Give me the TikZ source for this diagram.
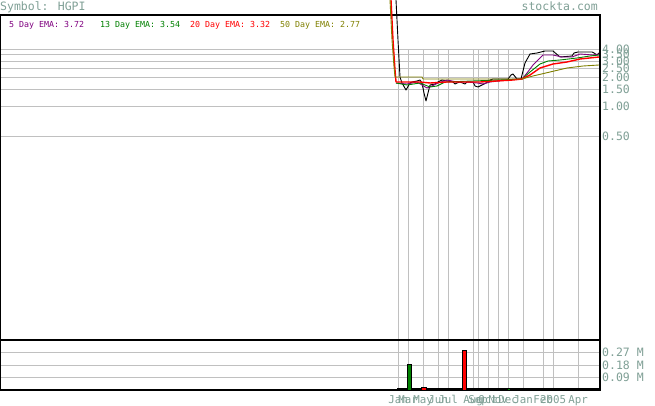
\documentclass[tikz,border=0pt]{standalone}
\usepackage{fontspec}
\newfontfamily\chartfont{DejaVu Sans Mono}
\definecolor{axisgray}{RGB}{192,192,192}
\definecolor{labelteal}{RGB}{128,160,150}
\definecolor{emapurple}{RGB}{128,0,128}
\definecolor{emagreen}{RGB}{0,128,0}
\definecolor{emared}{RGB}{255,0,0}
\definecolor{emaolive}{RGB}{128,128,0}

\begin{document}
\begin{tikzpicture}[x=1pt,y=-1pt,
    bigtext/.style={font=\chartfont\fontsize{11.5}{12}\selectfont,text=labelteal,inner sep=0pt},
    monthtext/.style={font=\chartfont\fontsize{10.8}{11}\selectfont,text=labelteal,inner sep=0pt,anchor=base},
    legendtext/.style={font=\chartfont\fontsize{8.3}{9}\selectfont,inner sep=0pt,anchor=base west},
    gridline/.style={axisgray,line width=1pt},
    frameline/.style={black,line width=1.2pt},
    volbar/.style={draw=black,line width=0.8pt}]
    \path[use as bounding box,fill=white] (0,0) rectangle (655,406);
    % Grid
    \foreach \y in {50,55,62,69,78,90,107,137,352,365,377}
      \draw[gridline] (0,\y) -- (600,\y);
    \foreach \x in {398,408,423,438,448,473,478,488,498,508,523,543,553,578}
      \draw[gridline] (\x,50) -- (\x,390);
    % Frame
    \draw[frameline] (0.6,15) -- (600,15) -- (600,390) -- (0.6,390) -- cycle;
    \draw[frameline] (0,340) -- (600,340);
    % Volume
    \draw[line width=1.6pt] (397,389.2) -- (600,389.2);
    \draw[volbar,fill=emagreen] (407,364) rectangle (411,390);
    \draw[volbar,fill=emared] (421,387) rectangle (426,390);
    \draw[volbar,fill=emared] (462,350) rectangle (466,390);
    \draw[volbar,fill=emagreen] (507,388) rectangle (510,390);
    % Price and averages
    \draw[black,line width=0.9pt,line join=round] plot coordinates {(396,0) (398,40) (400,77) (402,83) (406,90) (410,83) (412,82) (417,81) (420,80) (422,83) (424,93) (426,101) (428,93) (430,85) (435,84) (438,82) (442,80) (453,82) (455,84) (457,83) (460,82) (465,84) (467,82) (473,82) (475,86) (478,87) (482,85) (486,83) (490,80) (493,79) (508,79) (511,75) (513,74) (517,79) (521,79) (525,63) (530,54) (537,53) (545,51) (553,51) (560,57) (572,56) (574,53) (578,52) (592,52) (594,53) (597,55) (599,53)};
    \draw[emapurple,line width=0.9pt,line join=round] plot coordinates {(396,83) (407,84) (417,82) (422,85) (427,88) (432,86) (438,83) (447,80) (457,82) (467,82) (477,83) (483,84) (490,82) (507,80) (517,79) (522,79) (527,73) (533,65) (543,55) (553,55) (562,57) (572,57) (580,54) (593,55) (599,54)};
    \draw[emagreen,line width=0.9pt,line join=round] plot coordinates {(396,83) (407,85) (420,83) (430,87) (437,86) (445,82) (500,80) (522,79) (530,72) (540,64) (548,61) (560,60) (577,58) (590,56) (599,55)};
    \draw[emared,line width=1.4pt,line join=round] plot coordinates {(391,0) (393,40) (395,70) (396,82) (420,82) (430,83) (447,82) (480,82) (513,80) (522,79) (530,75) (540,68) (553,64) (567,62) (580,59) (599,57)};
    \draw[emaolive,line width=0.9pt,line join=round] plot coordinates {(390,0) (392,40) (394,67) (395,77) (422,77) (423,79) (522,79) (533,76) (550,72) (567,68) (583,66) (599,65)};
    % Labels
    \node[bigtext,anchor=base west] (symbol) at (0,11) {Symbol: HGPI};
    \node[bigtext,anchor=base east] (site) at (598,11) {stockta.com};
    \node[legendtext,text=emapurple] (ema5) at (9,28) {5 Day EMA: 3.72};
    \node[legendtext,text=emagreen] (ema13) at (100,28) {13 Day EMA: 3.54};
    \node[legendtext,text=emared] (ema20) at (190,28) {20 Day EMA: 3.32};
    \node[legendtext,text=emaolive] (ema50) at (280,28) {50 Day EMA: 2.77};
    \foreach \y/\v [count=\i] in {50/4.00,55/3.50,62/3.00,69/2.50,78/2.00,90/1.50,107/1.00,137/0.50}
      \node[bigtext,anchor=base west] (price\i) at (602,\y+4) {\v};
    \foreach \y/\v [count=\i] in {352/0.27 M,365/0.18 M,377/0.09 M}
      \node[bigtext,anchor=base west] (vol\i) at (602,\y+4) {\v};
    \foreach \x/\m [count=\i] in {398/Jan,408/Mar,423/May,438/Jun,448/Jul,473/Aug,478/Sep,488/Oct,498/Nov,508/Dec,523/Jan,543/Feb,553/2005,578/Apr}
      \node[monthtext] (month\i) at (\x,403) {\m};
\end{tikzpicture}
\end{document}
